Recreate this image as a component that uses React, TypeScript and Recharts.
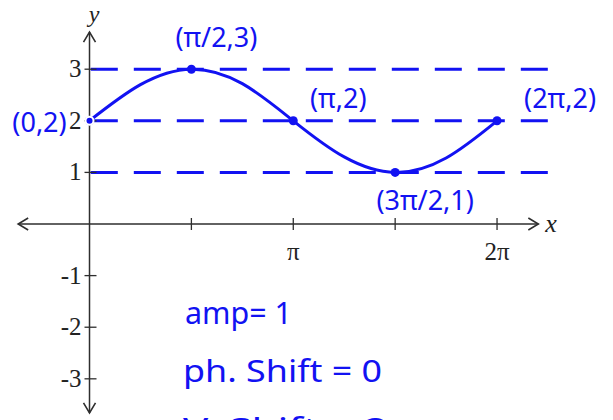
import { ComposedChart, Line, ReferenceLine, Scatter, XAxis, YAxis } from "recharts";

const PI = Math.PI;

// hand-drawn curve at quarter-pi steps
const curveX = [0, PI / 4, PI / 2, (3 * PI) / 4, PI, (5 * PI) / 4, (3 * PI) / 2, (7 * PI) / 4, 2 * PI];
const curveY = [2, 2.7, 3, 2.72, 2, 1.3, 1, 1.28, 2];

// marked points and their handwritten labels
const keyX = [0, PI / 2, PI, (3 * PI) / 2, 2 * PI];
const keyY = [2, 3, 2, 1, 2];
const keyLabels = ["(0,2)", "(π/2,3)", "(π,2)", "(3π/2,1)", "(2π,2)"];

// dashed guide lines
const guideLevels = [1, 2, 3];
const guideFrom = 0.02;
const guideTo = 7.1;

// axis ticks
const xTickValues = [PI / 2, PI, (3 * PI) / 2, 2 * PI];
const xTickLabels = ["", "π", "", "2π"];
const yTickValues = [3, 2, 1, -1, -2, -3];
const yTickLabels = ["3", "2", "1", "-1", "-2", "-3"];

// axis extents
const xAxisRange = [-1.1, 6.92];
const yAxisRange = [-3.66, 3.72];

const notes = ["amp= 1", "ph. Shift = 0", "V. Shift = 2"];

const X_DOMAIN = [-1.38, 8.071];
const Y_DOMAIN = [-3.798, 4.341];

const BLUE = "#1212f2";
const AXIS = "#2e2e2e";
const HAND = "'Noto Sans', sans-serif";
const SERIF = "'Liberation Serif', 'Times New Roman', serif";

const curveData = curveX.map((x, i) => ({ x, y: curveY[i] }));
const keyData = keyX.map((x, i) => ({ x, y: keyY[i], label: keyLabels[i] }));
const xTickData = xTickValues.map((x, i) => ({ x, y: 0, label: xTickLabels[i] }));
const yTickData = yTickValues.map((y, i) => ({ x: 0, y, label: yTickLabels[i] }));
const arrowData = [
  { x: xAxisRange[0], y: 0, dir: "left" },
  { x: xAxisRange[1], y: 0, dir: "right" },
  { x: 0, y: yAxisRange[1], dir: "up" },
  { x: 0, y: yAxisRange[0], dir: "down" },
];

const labelOffset: Record<string, { dx: number; dy: number }> = {
  "(0,2)": { dx: -50, dy: 11 },
  "(π/2,3)": { dx: 25, dy: -22 },
  "(π,2)": { dx: 45, dy: -13 },
  "(3π/2,1)": { dx: 30, dy: 38 },
  "(2π,2)": { dx: 63, dy: -13 },
};

const notePos = [
  { x: 185, y: 324, w: 107 },
  { x: 183, y: 382, w: 199 },
  { x: 183, y: 440, w: 205 },
];

function KeyPoint(props: any) {
  const { cx, cy, payload } = props;
  const off = labelOffset[payload.label] ?? { dx: 0, dy: 0 };
  return (
    <g>
      <circle cx={cx} cy={cy} r={4.5} fill={BLUE} />
      <text
        x={cx + off.dx}
        y={cy + off.dy}
        textAnchor="middle"
        fill={BLUE}
        fontFamily={HAND}
        fontSize={27}
      >
        {payload.label}
      </text>
    </g>
  );
}

function XTick(props: any) {
  const { cx, cy, payload } = props;
  return (
    <g>
      <line x1={cx} y1={cy - 6} x2={cx} y2={cy + 6} stroke={AXIS} strokeWidth={1.3} />
      {payload.label && (
        <text x={cx} y={cy + 36} textAnchor="middle" fill="#222" fontFamily={SERIF} fontSize={25}>
          {payload.label}
        </text>
      )}
    </g>
  );
}

function YTick(props: any) {
  const { cx, cy, payload } = props;
  return (
    <g>
      <line x1={cx - 5} y1={cy} x2={cx + 7} y2={cy} stroke={AXIS} strokeWidth={1.3} />
      <text x={cx - 8} y={cy + 8} textAnchor="end" fill="#222" fontFamily={SERIF} fontSize={25}>
        {payload.label}
      </text>
    </g>
  );
}

function Arrow(props: any) {
  const { cx, cy, payload } = props;
  const rot = { right: 0, down: 90, left: 180, up: 270 }[payload.dir as string] ?? 0;
  return (
    <g transform={`translate(${cx},${cy}) rotate(${rot})`}>
      <path d="M -10 -6 L 0 0 L -10 6" fill="none" stroke={AXIS} strokeWidth={1.6} />
    </g>
  );
}

export default function App() {
  return (
    <div style={{ position: "absolute", left: 0, top: 0, background: "#fff" }}>
      <ComposedChart width={613} height={420} margin={{ top: 0, right: 0, bottom: 0, left: 0 }}>
        <XAxis type="number" dataKey="x" domain={X_DOMAIN} allowDataOverflow hide />
        <YAxis type="number" dataKey="y" domain={Y_DOMAIN} allowDataOverflow hide width={0} />

        <ReferenceLine
          segment={[
            { x: xAxisRange[0], y: 0 },
            { x: xAxisRange[1], y: 0 },
          ]}
          stroke={AXIS}
          strokeWidth={1.5}
        />
        <ReferenceLine
          segment={[
            { x: 0, y: yAxisRange[0] },
            { x: 0, y: yAxisRange[1] },
          ]}
          stroke={AXIS}
          strokeWidth={1.5}
        />

        {guideLevels.map((lvl) => (
          <ReferenceLine
            key={lvl}
            segment={[
              { x: guideFrom, y: lvl },
              { x: guideTo, y: lvl },
            ]}
            stroke={BLUE}
            strokeWidth={3}
            strokeDasharray="27 16"
          />
        ))}

        <Scatter data={arrowData} dataKey="y" shape={<Arrow />} isAnimationActive={false} />
        <Scatter data={xTickData} dataKey="y" shape={<XTick />} isAnimationActive={false} />
        <Scatter data={yTickData} dataKey="y" shape={<YTick />} isAnimationActive={false} />

        <Line
          data={curveData}
          dataKey="y"
          type="natural"
          stroke={BLUE}
          strokeWidth={3}
          dot={false}
          isAnimationActive={false}
        />
        <Scatter data={keyData} dataKey="y" shape={<KeyPoint />} isAnimationActive={false} />

        <text x={551} y={232} fill="#222" fontFamily={SERIF} fontStyle="italic" fontSize={26} textAnchor="middle">
          x
        </text>
        <text x={94} y={22} fill="#222" fontFamily={SERIF} fontStyle="italic" fontSize={24} textAnchor="middle">
          y
        </text>

        {notes.map((n, i) => (
          <text
            key={n}
            x={notePos[i].x}
            y={notePos[i].y}
            fill={BLUE}
            fontFamily={HAND}
            fontSize={30}
            textLength={notePos[i].w}
            lengthAdjust="spacingAndGlyphs"
          >
            {n}
          </text>
        ))}
      </ComposedChart>
    </div>
  );
}
